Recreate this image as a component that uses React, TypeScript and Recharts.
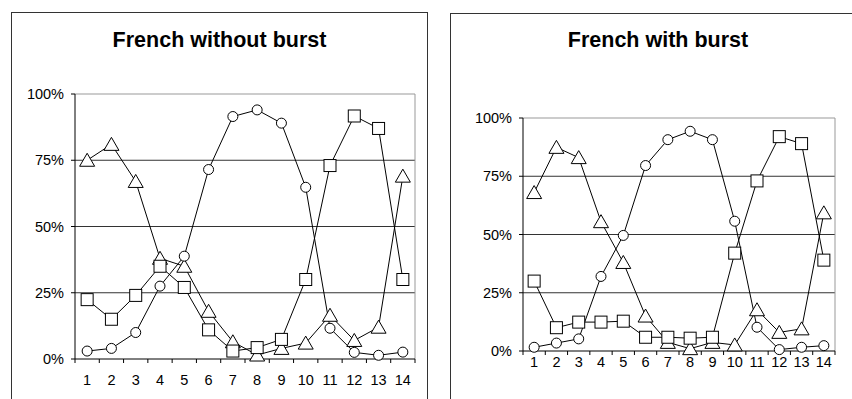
import { LineChart, Line, XAxis, YAxis, ReferenceLine } from "recharts";

const steps = [1, 2, 3, 4, 5, 6, 7, 8, 9, 10, 11, 12, 13, 14];
const xTicks = [0.5, 1, 1.5, 2, 2.5, 3, 3.5, 4, 4.5, 5, 5.5, 6, 6.5, 7, 7.5, 8, 8.5, 9, 9.5, 10, 10.5, 11, 11.5, 12, 12.5, 13, 13.5, 14, 14.5];
const yTicks = [0, 25, 50, 75, 100];
const gridLines = [25, 50, 75];

// French without burst
const plainTriangle = [75, 81, 67, 38, 35, 18, 6.5, 1.5, 4, 6, 16.5, 7, 12, 69];
const plainSquare = [22.4, 15, 24, 35, 27, 11, 3, 4.3, 7.4, 30, 73, 91.7, 87, 30];
const plainCircle = [3, 4, 10, 27.5, 38.8, 71.5, 91.5, 94, 89, 64.8, 11.6, 2.5, 1.4, 2.6];

// French with burst
const burstTriangle = [68, 87.4, 83, 55.5, 38, 15, 3.7, 1, 3.7, 2.6, 17.7, 8, 9.5, 59.3];
const burstSquare = [30, 10, 12.4, 12.4, 12.8, 5.9, 5.9, 5.5, 5.9, 42, 73, 92, 89, 39];
const burstCircle = [1.6, 3.4, 5.2, 32, 49.6, 79.6, 90.7, 94.3, 90.7, 55.7, 10.2, 0.6, 1.6, 2.3];

const font = "'Liberation Sans', Arial, sans-serif";
const tickFont = 14.5;

const TriangleDot = (p: any) => (
  <polygon
    key={`t-${p.index}`}
    points={`${p.cx},${p.cy - 7} ${p.cx - 7.5},${p.cy + 6} ${p.cx + 7.5},${p.cy + 6}`}
    fill="#fff"
    stroke="#000"
    strokeWidth={1}
  />
);

const SquareDot = (p: any) => (
  <rect key={`s-${p.index}`} x={p.cx - 6} y={p.cy - 6} width={12} height={12} fill="#fff" stroke="#000" strokeWidth={1} />
);

const CircleDot = (p: any) => (
  <circle key={`c-${p.index}`} cx={p.cx} cy={p.cy} r={5} fill="#fff" stroke="#000" strokeWidth={1} />
);

const makeXTick = (labelGap: number) => (props: any) => {
  const { x, y, payload } = props;
  const v = payload.value;
  if (Number.isInteger(v)) {
    return (
      <text x={x} y={y + labelGap} textAnchor="middle" dominantBaseline="central" fontSize={tickFont} fill="#000">
        {v}
      </text>
    );
  }
  return <line x1={x} x2={x} y1={y} y2={y + 4} stroke="#000" strokeWidth={1} />;
};

type PanelProps = {
  left: number;
  width: number;
  margin: { top: number; right: number; bottom: number; left: number };
  labelGap: number;
  tri: number[];
  sq: number[];
  circ: number[];
};

const Panel = ({ left, width, margin, labelGap, tri, sq, circ }: PanelProps) => {
  const data = steps.map((s, i) => ({ step: s, tri: tri[i], sq: sq[i], circ: circ[i] }));
  return (
    <div style={{ position: "absolute", left, top: 0 }}>
      <LineChart width={width} height={399} data={data} margin={margin}>
        {gridLines.map((g) => (
          <ReferenceLine key={g} y={g} stroke="#333" strokeWidth={1} />
        ))}
        <ReferenceLine y={100} stroke="#999" strokeWidth={1} />
        <ReferenceLine x={14.5} stroke="#999" strokeWidth={1} />
        <XAxis
          dataKey="step"
          type="number"
          domain={[0.5, 14.5]}
          ticks={xTicks}
          interval={0}
          tickLine={false}
          tickSize={0}
          tickMargin={0}
          height={30}
          axisLine={{ stroke: "#000" }}
          tick={makeXTick(labelGap)}
        />
        <YAxis
          type="number"
          domain={[0, 100]}
          ticks={yTicks}
          interval={0}
          width={45}
          tickSize={4}
          tickMargin={7}
          tickFormatter={(v) => `${v}%`}
          axisLine={{ stroke: "#000" }}
          tickLine={{ stroke: "#000" }}
          tick={{ fontSize: tickFont, fill: "#000" }}
        />
        <Line dataKey="tri" stroke="#000" strokeWidth={1} dot={TriangleDot} isAnimationActive={false} />
        <Line dataKey="circ" stroke="#000" strokeWidth={1} dot={CircleDot} isAnimationActive={false} />
        <Line dataKey="sq" stroke="#000" strokeWidth={1} dot={SquareDot} isAnimationActive={false} />
      </LineChart>
    </div>
  );
};

const App = () => {
  return (
    <div
      style={{
        position: "absolute",
        left: 0,
        top: 0,
        width: 852,
        height: 399,
        overflow: "hidden",
        background: "#fff",
        fontFamily: font,
      }}
    >
      <div style={{ position: "absolute", left: 11, top: 12, width: 417, height: 420, border: "1px solid #333", boxSizing: "border-box" }} />
      <div style={{ position: "absolute", left: 450, top: 13, width: 416, height: 420, border: "1px solid #333", boxSizing: "border-box" }} />
      <div style={{ position: "absolute", left: 11, top: 28, width: 417, textAlign: "center", fontSize: 21.5, fontWeight: "bold", lineHeight: "24px" }}>
        French without burst
      </div>
      <div style={{ position: "absolute", left: 450, top: 28, width: 416, textAlign: "center", fontSize: 21.5, fontWeight: "bold", lineHeight: "24px" }}>
        French with burst
      </div>
      <Panel
        left={0}
        width={430}
        margin={{ top: 94, right: 15, bottom: 10, left: 30 }}
        labelGap={21}
        tri={plainTriangle}
        sq={plainSquare}
        circ={plainCircle}
      />
      <Panel
        left={430}
        width={422}
        margin={{ top: 118, right: 17, bottom: 18, left: 48 }}
        labelGap={11}
        tri={burstTriangle}
        sq={burstSquare}
        circ={burstCircle}
      />
    </div>
  );
};

export default App;
